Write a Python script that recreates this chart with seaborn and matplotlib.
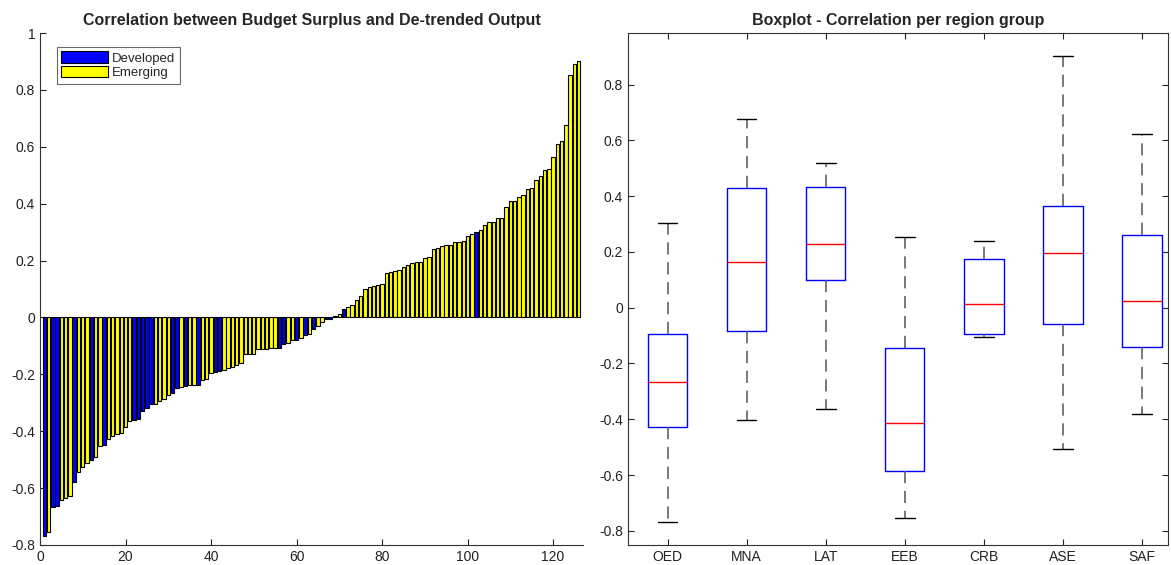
import numpy as np
import pandas as pd
import matplotlib
matplotlib.use("Agg")
import matplotlib.pyplot as plt
import seaborn as sns
from matplotlib.patches import Patch

# ---------------- data ----------------
# Sorted correlations (bar chart), one per country
corr_values = [
    -0.767, -0.753, -0.668, -0.662, -0.641, -0.636, -0.629, -0.580, -0.543, -0.527,
    -0.510, -0.500, -0.490, -0.452, -0.448, -0.426, -0.416, -0.410, -0.405, -0.384,
    -0.365, -0.361, -0.358, -0.329, -0.320, -0.305, -0.303, -0.294, -0.285, -0.274,
    -0.264, -0.247, -0.243, -0.241, -0.239, -0.237, -0.236, -0.220, -0.218, -0.194,
    -0.193, -0.190, -0.185, -0.177, -0.175, -0.168, -0.159, -0.130, -0.128, -0.127,
    -0.112, -0.112, -0.110, -0.108, -0.108, -0.107, -0.092, -0.090, -0.081, -0.078,
    -0.074, -0.060, -0.058, -0.040, -0.030, -0.016, -0.007, -0.004, 0.004, 0.013,
    0.030, 0.037, 0.042, 0.060, 0.075, 0.100, 0.106, 0.110, 0.115, 0.119,
    0.157, 0.160, 0.165, 0.167, 0.178, 0.184, 0.192, 0.194, 0.196, 0.210,
    0.212, 0.239, 0.244, 0.250, 0.254, 0.256, 0.264, 0.265, 0.268, 0.285,
    0.294, 0.302, 0.306, 0.326, 0.336, 0.337, 0.350, 0.350, 0.387, 0.408,
    0.409, 0.424, 0.430, 0.450, 0.454, 0.483, 0.496, 0.517, 0.523, 0.565,
    0.610, 0.620, 0.675, 0.853, 0.890, 0.900,
]
developed_idx = [1, 3, 4, 8, 12, 15, 22, 23, 24, 25, 26, 31, 32, 34, 37, 41, 42,
                 56, 57, 60, 62, 64, 67, 68, 71, 102]
group_names = ["Developed", "Emerging"]

# Box plot five-number summaries per region group
regions = ["OED", "MNA", "LAT", "EEB", "CRB", "ASE", "SAF"]
box_min = [-0.767, -0.403, -0.365, -0.755, -0.106, -0.508, -0.383]
box_q1 = [-0.427, -0.083, 0.101, -0.586, -0.094, -0.057, -0.142]
box_med = [-0.266, 0.165, 0.230, -0.412, 0.013, 0.197, 0.025]
box_q3 = [-0.094, 0.428, 0.432, -0.145, 0.176, 0.363, 0.262]
box_max = [0.303, 0.676, 0.520, 0.253, 0.240, 0.902, 0.622]


def fmt(v):
    v = round(float(v), 1)
    return "0" if v == 0 else f"{v:g}"


# ---------------- style ----------------
sns.set_style("ticks")
plt.rcParams["font.family"] = ["Liberation Sans", "DejaVu Sans"]
plt.rcParams["xtick.direction"] = "in"
plt.rcParams["ytick.direction"] = "in"
plt.rcParams["axes.edgecolor"] = "#333333"
plt.rcParams["axes.linewidth"] = 0.8

fig = plt.figure(figsize=(11.71, 5.65), dpi=100)
ax1 = fig.add_axes([40 / 1171, 20 / 565, 543 / 1171, 512 / 565])
ax2 = fig.add_axes([628 / 1171, 20 / 565, 540 / 1171, 512 / 565])

# ---------------- left: bar chart ----------------
n = len(corr_values)
idx = np.arange(1, n + 1)
grp = [group_names[0] if i in developed_idx else group_names[1] for i in idx]
df_bar = pd.DataFrame({"idx": idx, "corr": corr_values, "group": grp})

sns.barplot(data=df_bar, x="idx", y="corr", hue="group", hue_order=group_names,
            palette={"Developed": "#0000ff", "Emerging": "#ffff00"},
            native_scale=True, dodge=False, width=0.8, saturation=1,
            errorbar=None, edgecolor="black", linewidth=0.8, ax=ax1,
            legend=False)
ax1.set_xlim(0, 127)
ax1.set_ylim(-0.8, 1.0)
ax1.set_xticks(np.arange(0, 121, 20))
ax1.set_xticklabels([fmt(v) for v in np.arange(0, 121, 20)])
yt = np.arange(-0.8, 1.01, 0.2)
ax1.set_yticks(yt)
ax1.set_yticklabels([fmt(v) for v in yt])
ax1.set_xlabel("")
ax1.set_ylabel("")
ax1.tick_params(labelsize=10, length=4, width=0.8, colors="#222222")
for s in ["top", "right"]:
    ax1.spines[s].set_visible(False)
ax1.set_title("Correlation between Budget Surplus and De-trended Output",
              fontsize=11.5, fontweight="bold", pad=6)
handles = [Patch(facecolor="#0000ff", edgecolor="black", linewidth=0.8),
           Patch(facecolor="#ffff00", edgecolor="black", linewidth=0.8)]
leg = ax1.legend(handles, group_names, loc="upper left",
                 bbox_to_anchor=(0.031, 0.973), fontsize=9.5, frameon=True,
                 fancybox=False, handlelength=3.5, handleheight=1.0,
                 handletextpad=0.35, borderpad=0.35, labelspacing=0.05,
                 borderaxespad=0)
leg.get_frame().set_edgecolor("#444444")
leg.get_frame().set_linewidth(0.8)

# ---------------- right: boxplot ----------------
rows = []
for r, a, b, c, d, e in zip(regions, box_min, box_q1, box_med, box_q3, box_max):
    for v in (a, b, c, d, e):
        rows.append({"region": r, "corr": v})
df_box = pd.DataFrame(rows)

sns.boxplot(data=df_box, x="region", y="corr", order=regions, whis=(0, 100),
            width=0.5, fill=False, showfliers=False, ax=ax2,
            boxprops=dict(color="#0000ff", linewidth=1.0),
            medianprops=dict(color="#ff0000", linewidth=1.0),
            whiskerprops=dict(color="#555555", linewidth=1.1,
                              linestyle=(0, (8, 5))),
            capprops=dict(color="#000000", linewidth=1.0))
ax2.set_xlim(-0.5, 6.33)
ax2.set_ylim(-0.851, 0.985)
yt2 = np.arange(-0.8, 0.81, 0.2)
ax2.set_yticks(yt2)
ax2.set_yticklabels([fmt(v) for v in yt2])
ax2.set_xlabel("")
ax2.set_ylabel("")
ax2.tick_params(labelsize=10, length=4, width=0.8, colors="#222222",
                top=True, right=True)
for s in ax2.spines.values():
    s.set_visible(True)
ax2.set_title("Boxplot - Correlation per region group",
              fontsize=11.5, fontweight="bold", pad=6)

fig.savefig("out.png", dpi=100)
